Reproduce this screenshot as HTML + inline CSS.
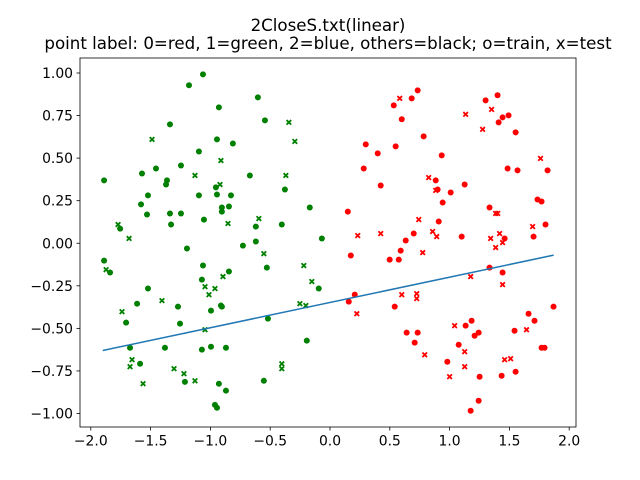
<!DOCTYPE html>
<html><head><meta charset="utf-8"><style>
body{margin:0;background:#fff;}
svg{display:block;font-family:"DejaVu Sans","Liberation Sans",sans-serif;}
</style></head><body>
<svg id="chart" width="640" height="480"></svg>
<script>
const xTicks=[-2.0,-1.5,-1.0,-0.5,0.0,0.5,1.0,1.5,2.0];
const xTickLabels=["\u22122.0","\u22121.5","\u22121.0","\u22120.5","0.0","0.5","1.0","1.5","2.0"];
const yTicks=[-1.0,-0.75,-0.5,-0.25,0,0.25,0.5,0.75,1.0];
const yTickLabels=["\u22121.00","\u22120.75","\u22120.50","\u22120.25","0.00","0.25","0.50","0.75","1.00"];
const greenTrainX=[-1.062,-1.179,-0.603,-0.929,-0.544,-1.338,-0.945,-0.812,-1.096,-1.455,-1.246,-1.572,-0.670,-1.363,-1.371,-1.889,-0.954,-0.945,-0.828,-1.096,-0.377,-1.522,-1.580,-0.904,-0.845,-0.904,-1.530,-1.338,-1.246,-0.169,-1.054,-1.329,-0.403,-0.620,-1.755,-0.068,-0.620,-1.196,-0.728,-1.889,-1.839,-1.062,-0.528,-0.845,-1.071,-1.522,-0.094,-1.613,-1.271,-0.912,-0.904,-0.995,-1.705,-1.254,-0.519,-1.672,-1.380,-1.071,-0.995,-0.870,-0.194,-1.588,-1.213,-0.929,-0.870,-0.553,-0.962,-0.945];
const greenTrainY=[0.992,0.928,0.857,0.798,0.722,0.698,0.610,0.586,0.539,0.439,0.457,0.410,0.398,0.369,0.345,0.369,0.328,0.286,0.281,0.281,0.316,0.281,0.228,0.210,0.216,0.186,0.169,0.175,0.175,0.210,0.139,0.110,0.110,0.098,0.086,0.028,0.010,-0.031,-0.014,-0.102,-0.172,-0.131,-0.143,-0.166,-0.214,-0.266,-0.266,-0.355,-0.372,-0.366,-0.372,-0.396,-0.466,-0.472,-0.443,-0.614,-0.614,-0.625,-0.608,-0.614,-0.572,-0.708,-0.814,-0.825,-0.866,-0.808,-0.949,-0.966];
const greenTestX=[-0.344,-1.488,-0.294,-0.912,-1.129,-0.369,-0.920,-1.772,-0.853,-0.595,-1.680,-1.872,-0.553,-0.219,-0.895,-0.152,-1.045,-0.962,-1.012,-1.405,-1.739,-0.252,-0.202,-1.045,-1.655,-1.672,-1.304,-1.221,-1.563,-1.129,-0.403,-0.403];
const greenTestY=[0.710,0.610,0.598,0.486,0.398,0.398,0.345,0.110,0.116,0.145,0.028,-0.155,-0.061,-0.131,-0.196,-0.225,-0.255,-0.266,-0.302,-0.337,-0.402,-0.355,-0.366,-0.508,-0.684,-0.725,-0.737,-0.766,-0.825,-0.808,-0.708,-0.737];
const redTrainX=[0.733,0.683,0.533,0.600,0.783,0.299,0.549,0.399,0.934,0.282,0.424,0.884,0.900,1.009,1.126,0.942,0.149,0.909,0.700,0.633,1.101,1.301,1.401,1.443,1.493,1.410,1.552,1.485,1.568,1.819,1.334,1.735,1.769,1.802,1.702,1.460,0.174,0.591,0.499,0.575,0.207,0.157,0.541,1.334,1.443,1.869,0.641,0.733,0.708,1.134,1.184,1.243,1.209,1.076,0.981,1.251,1.435,1.552,1.543,1.660,1.710,1.769,1.794,1.243,1.176];
const redTrainY=[0.898,0.851,0.810,0.728,0.628,0.581,0.569,0.528,0.516,0.439,0.339,0.369,0.316,0.298,0.345,0.239,0.186,0.128,0.057,0.016,0.039,0.839,0.869,0.739,0.751,0.710,0.651,0.439,0.428,0.428,0.210,0.257,0.245,0.110,0.039,0.028,-0.072,-0.043,-0.096,-0.096,-0.302,-0.343,-0.372,-0.143,-0.172,-0.372,-0.525,-0.525,-0.584,-0.484,-0.455,-0.525,-0.543,-0.596,-0.696,-0.784,-0.778,-0.755,-0.514,-0.414,-0.455,-0.614,-0.614,-0.925,-0.984];
const redTestX=[0.583,1.134,1.351,1.276,1.760,0.825,0.884,0.742,0.232,0.424,0.858,0.892,1.385,1.402,1.418,1.343,1.694,1.443,1.385,0.775,1.176,1.443,0.600,0.725,0.725,0.224,1.042,1.643,1.126,0.792,1.126,1.460,1.510,1.000];
const redTestY=[0.851,0.757,0.786,0.669,0.498,0.386,0.310,0.139,0.045,0.057,0.069,0.039,0.175,0.175,0.057,0.028,0.098,0.004,-0.025,-0.055,-0.196,-0.243,-0.302,-0.296,-0.325,-0.414,-0.484,-0.508,-0.637,-0.655,-0.725,-0.684,-0.678,-0.784];
const lineX=[-1.90,1.87];
const lineY=[-0.63,-0.07];

const NS="http://www.w3.org/2000/svg";
const svg=document.getElementById('chart');
const L=80,R=576,T=58,B=427;
function sx(v){return 330+v*119.6;}
function sy(v){return 243.25-v*170.25;}
function mk(tag,attrs,parent){const e=document.createElementNS(NS,tag);for(const k in attrs)e.setAttribute(k,attrs[k]);(parent||svg).appendChild(e);return e;}

const t1=mk('text',{x:328,y:31,'text-anchor':'middle','font-size':16.67});
t1.textContent='2CloseS.txt(linear)';


const t2=mk('text',{x:328,y:49,'text-anchor':'middle','font-size':16.67});
t2.textContent='point label: 0=red, 1=green, 2=blue, others=black; o=train, x=test';



const plot=mk('g',{});



function circles(xs,ys,color,name){
  for(let i=0;i<xs.length;i++){
    const c=mk('circle',{cx:sx(xs[i]),cy:sy(ys[i]),r:3,fill:color},plot);
    
    
  }
}
function crosses(xs,ys,color,name){
  for(let i=0;i<xs.length;i++){
    const x=sx(xs[i]),y=sy(ys[i]),d=2.3;
    const p=mk('path',{d:`M${x-d},${y-d}L${x+d},${y+d}M${x-d},${y+d}L${x+d},${y-d}`,stroke:color,'stroke-width':1.8,fill:'none'},plot);
    
    
  }
}
circles(greenTrainX,greenTrainY,'#008000','green-train-point');
crosses(greenTestX,greenTestY,'#008000','green-test-point');
circles(redTrainX,redTrainY,'#ff0000','red-train-point');
crosses(redTestX,redTestY,'#ff0000','red-test-point');

const ln=mk('line',{x1:sx(lineX[0]),y1:sy(lineY[0]),x2:sx(lineX[1]),y2:sy(lineY[1]),stroke:'#1f77b4','stroke-width':1.5});



const frame=mk('rect',{x:L,y:T,width:R-L,height:B-T,fill:'none',stroke:'#000','stroke-width':0.8});



for(let i=0;i<xTicks.length;i++){
  const x=sx(xTicks[i]);
  const tk=mk('line',{x1:x,y1:B,x2:x,y2:B+3.5,stroke:'#000','stroke-width':0.8});
  
  
  const tl=mk('text',{x:x,y:B+18.5,'text-anchor':'middle','font-size':13.9});
  tl.textContent=xTickLabels[i];
  
  
}
for(let i=0;i<yTicks.length;i++){
  const y=sy(yTicks[i]);
  const tk=mk('line',{x1:L-3.5,y1:y,x2:L,y2:y,stroke:'#000','stroke-width':0.8});
  
  
  const tl=mk('text',{x:L-7,y:y+5,'text-anchor':'end','font-size':13.9});
  tl.textContent=yTickLabels[i];
  
  
}
</script>
</body></html>
